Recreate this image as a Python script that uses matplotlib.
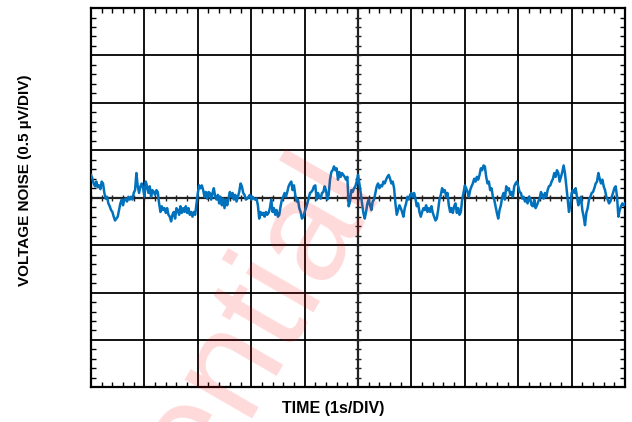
import numpy as np
import matplotlib
matplotlib.use("Agg")
import matplotlib.pyplot as plt
from matplotlib.ticker import MultipleLocator, NullFormatter

# ==========================
# DATA
# ==========================
SAMPLE_STEP = 0.025   # s between read points
X_DIV = 1.0           # 1 s/DIV
Y_DIV = 0.5           # 0.5 uV/DIV
N_XDIV, N_YDIV = 10, 8

# voltage noise in uV, first half of the screen (0..5 s)
noise_a = [
    0.24, 0.20, 0.15, 0.12, 0.17, 0.11, 0.13, 0.09, 0.17, 0.15,
    0.05, -0.01, 0.01, -0.06, -0.09, -0.13, -0.15, -0.20, -0.24, -0.22,
    -0.20, -0.13, -0.06, -0.02, -0.08, -0.02, -0.01, -0.04, 0.01, -0.02,
    0.01, -0.02, 0.05, 0.08, 0.26, 0.12, 0.05, 0.12, 0.15, 0.10,
    0.01, 0.17, 0.12, 0.05, 0.12, 0.01, 0.08, 0.06, 0.03, 0.08,
    0.06, -0.06, -0.15, -0.09, -0.13, -0.11, -0.16, -0.11, -0.18, -0.20,
    -0.25, -0.18, -0.15, -0.22, -0.11, -0.13, -0.18, -0.09, -0.16, -0.11,
    -0.15, -0.09, -0.16, -0.11, -0.18, -0.15, -0.20, -0.15, -0.18, -0.06,
    0.05, 0.13, 0.10, 0.13, 0.08, 0.01, 0.06, -0.01, 0.06, 0.05,
    -0.02, 0.05, 0.10, 0.01, -0.02, 0.03, -0.06, 0.01, -0.08, -0.01,
    -0.11, -0.02, -0.08, -0.01, 0.06, 0.01, 0.05, -0.02, 0.03, -0.04,
    0.01, 0.06, 0.15, 0.12, 0.05, 0.03, -0.02, -0.01, 0.01, 0.03,
    -0.02, 0.01, -0.01, -0.02, -0.01, -0.08, -0.22, -0.15, -0.18, -0.16,
    -0.20, -0.15, -0.18, -0.16, -0.11, -0.02, -0.15, -0.11, -0.18, -0.13,
    -0.20, -0.18, -0.09, -0.02, 0.01, 0.05, 0.01, 0.06, 0.12, 0.15,
    0.17, 0.08, 0.13, 0.03, -0.04, -0.02, -0.11, -0.15, -0.22, -0.20,
    -0.15, -0.11, -0.06, -0.01, 0.05, 0.06, 0.08, 0.12, 0.13, -0.02,
    0.05, 0.01, -0.01, 0.05, 0.06, 0.12, 0.08, -0.02, 0.03, 0.19,
    0.27, 0.29, 0.33, 0.29, 0.31, 0.19, 0.27, 0.22, 0.26, 0.24,
    0.22, 0.19, 0.22, -0.09, -0.04, 0.08, 0.06, 0.10, 0.12, 0.17,
    0.24,
]

# second half of the screen (5..10 s)
noise_b = [
    0.15, 0.05, -0.06, -0.16, -0.22, -0.15, -0.06, -0.02, -0.08, -0.13,
    -0.04, -0.02, 0.05, 0.12, 0.15, 0.10, 0.13, 0.12, 0.17, 0.15,
    0.19, 0.22, 0.24, 0.20, 0.15, 0.17, 0.10, -0.06, -0.18, -0.13,
    -0.08, -0.11, -0.15, -0.20, -0.11, -0.06, 0.01, -0.02, 0.03, 0.05,
    0.01, 0.05, -0.01, -0.09, -0.06, -0.15, -0.20, -0.15, -0.11, -0.13,
    -0.08, -0.15, -0.11, -0.15, -0.09, -0.16, -0.20, -0.24, -0.22, -0.13,
    -0.02, 0.03, 0.10, 0.06, 0.08, 0.01, 0.05, -0.08, -0.15, -0.11,
    -0.16, -0.09, -0.06, -0.16, -0.11, -0.18, -0.15, -0.02, 0.05, 0.13,
    0.10, 0.06, 0.01, 0.08, 0.12, 0.15, 0.20, 0.17, 0.22, 0.19,
    0.24, 0.31, 0.29, 0.34, 0.33, 0.22, 0.15, 0.17, 0.08, 0.10,
    0.01, -0.02, -0.09, -0.16, -0.22, -0.13, -0.08, 0.01, 0.05, -0.02,
    0.12, 0.08, 0.10, 0.03, 0.06, 0.01, 0.12, 0.15, 0.17, 0.12,
    0.06, 0.05, -0.01, 0.01, -0.04, -0.02, -0.06, 0.01, -0.01, -0.08,
    -0.09, -0.02, -0.11, -0.08, -0.04, -0.01, 0.06, 0.03, -0.01, 0.05,
    0.01, 0.08, 0.12, 0.13, 0.17, 0.20, 0.26, 0.22, 0.29, 0.26,
    0.17, 0.22, 0.27, 0.34, 0.26, 0.12, -0.02, -0.15, -0.08, 0.05,
    0.08, 0.05, 0.10, 0.01, -0.08, -0.04, 0.01, -0.13, -0.20, -0.29,
    -0.16, -0.11, -0.02, 0.01, 0.05, 0.06, 0.10, 0.15, 0.17, 0.26,
    0.20, 0.15, 0.19, 0.12, 0.08, 0.01, -0.02, -0.06, -0.04, 0.01,
    0.05, 0.10, 0.12, 0.01, -0.20, -0.13, -0.09, -0.06, -0.08, -0.06,
]

noise = np.array(noise_a + noise_b)
time = np.arange(len(noise)) * SAMPLE_STEP

# ==========================
# FIGURE
# ==========================
plt.rcParams['font.family'] = ['Liberation Sans', 'DejaVu Sans']

fig = plt.figure(figsize=(6.32, 4.22), dpi=100)
ax = fig.add_axes([0.144, 0.082, 0.845, 0.899])

x_max = N_XDIV * X_DIV
y_half = N_YDIV / 2 * Y_DIV

# watermark behind everything
fig.text(0.600, 0.560, "Confidential", rotation=60, rotation_mode='anchor',
         ha='right', va='baseline', fontsize=106, color='#ff0000', alpha=0.15,
         zorder=0)
ax.set_facecolor('none')

ax.set_xlim(0, x_max)
ax.set_ylim(-y_half, y_half)
ax.xaxis.set_major_locator(MultipleLocator(X_DIV))
ax.yaxis.set_major_locator(MultipleLocator(Y_DIV))
ax.xaxis.set_minor_locator(MultipleLocator(X_DIV / 5))
ax.yaxis.set_minor_locator(MultipleLocator(Y_DIV / 5))
ax.xaxis.set_major_formatter(NullFormatter())
ax.yaxis.set_major_formatter(NullFormatter())
ax.tick_params(which='major', length=0)
ax.tick_params(which='minor', direction='in', top=True, right=True,
               length=3.5, width=1.0, color='black')
ax.grid(True, which='major', color='black', linewidth=1.3)
for sp in ax.spines.values():
    sp.set_linewidth(1.6)

# centre cross with small ticks
ax.axhline(0, color='#222222', linewidth=1.6, zorder=2)
ax.axvline(x_max / 2, color='#222222', linewidth=1.6, zorder=2)
minor_x = np.arange(0, x_max + 1e-9, X_DIV / 5)
minor_y = np.arange(-y_half, y_half + 1e-9, Y_DIV / 5)
ax.plot(minor_x, np.zeros_like(minor_x), ls='none', marker='|',
        markersize=5, mew=1.0, color='#222222', zorder=2)
ax.plot(np.full_like(minor_y, x_max / 2), minor_y, ls='none', marker='_',
        markersize=5, mew=1.0, color='#222222', zorder=2)

ax.plot(time, noise, color='#0072BD', linewidth=1.8, zorder=3)

fig.text(0.527, 0.033, "TIME (1s/DIV)", fontsize=11.5, fontweight='bold',
         ha='center', va='center')
fig.text(0.040, 0.573, "VOLTAGE NOISE (0.5 µV/DIV)", fontsize=11,
         fontweight='bold', rotation=90, ha='center', va='center')

fig.savefig("out.png", dpi=100)
